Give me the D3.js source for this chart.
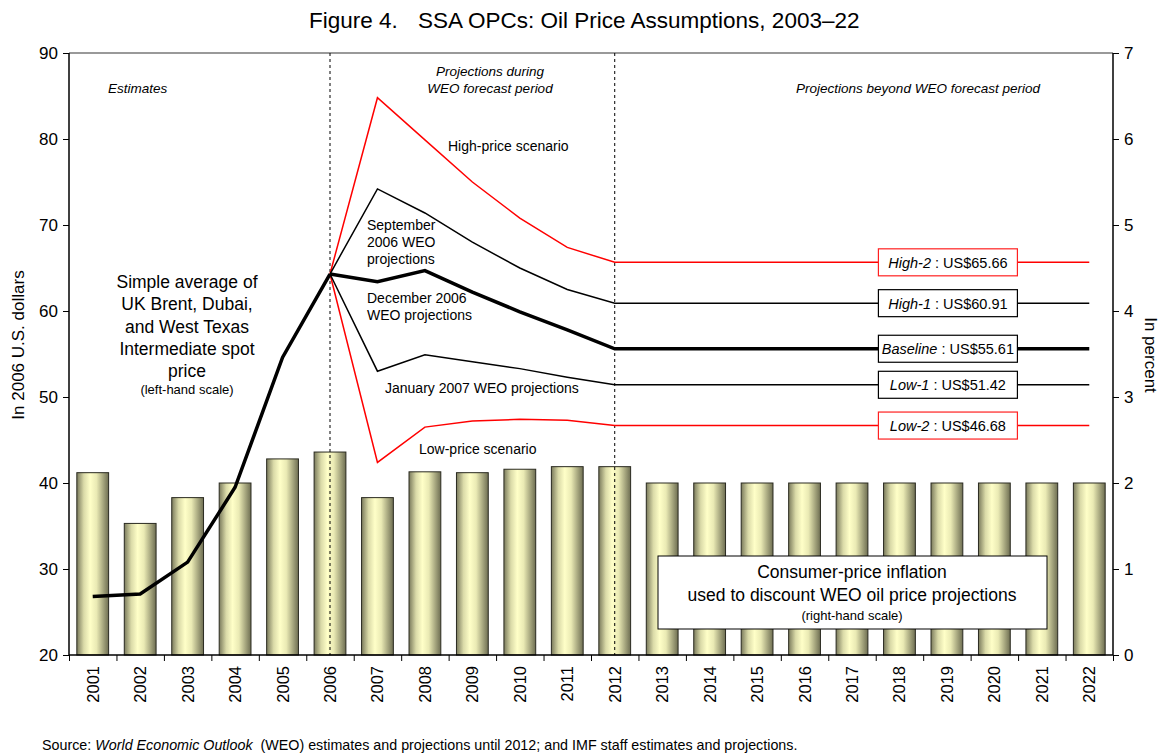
<!DOCTYPE html>
<html>
<head>
<meta charset="utf-8">
<script src="https://d3js.org/d3.v7.min.js"></script>
<style>
  body { margin: 0; background: #fff; }
  svg { font-family: 'Liberation Sans', Arial, sans-serif; }
  .axis text { font-size: 17px; fill: #000; }
  .axis path, .axis line { stroke: #000; }
</style>
</head>
<body>
<svg id="chart" width="1161" height="756"></svg>
<script>
// ---- data ----
let years = d3.range(2001, 2023).map(String);
let inflation = [2.12, 1.53, 1.83, 2.0, 2.28, 2.36, 1.83, 2.13, 2.12, 2.16, 2.19, 2.19,
                 2.0, 2.0, 2.0, 2.0, 2.0, 2.0, 2.0, 2.0, 2.0, 2.0];
let histYears = ['2001', '2002', '2003', '2004', '2005', '2006'];
let histPrice = [26.8, 27.1, 30.8, 39.5, 54.6, 64.3];
let projYears = ['2006', '2007', '2008', '2009', '2010', '2011', '2012'];
let high2 = [64.3, 84.8, 79.9, 75.0, 70.8, 67.4, 65.66];
let high1 = [64.3, 74.2, 71.4, 68.0, 65.0, 62.5, 60.91];
let baseline = [64.3, 63.4, 64.7, 62.2, 59.9, 57.8, 55.61];
let low1 = [64.3, 53.0, 54.9, 54.1, 53.3, 52.3, 51.42];
let low2 = [64.3, 42.4, 46.5, 47.2, 47.4, 47.3, 46.68];
let leftTicks = [20, 30, 40, 50, 60, 70, 80, 90];
let rightTicks = [0, 1, 2, 3, 4, 5, 6, 7];

let config = { left: 69, right: 1113, top: 53, bottom: 655 };

const svg = d3.select('#chart');

let x = d3.scaleBand().domain(years).range([config.left, config.right]).paddingInner(0.33).paddingOuter(0.165);
let xc = d => x(d) + x.bandwidth() / 2;
let xi = d3.scaleLinear().domain([0, years.length]).range([config.left, config.right]);
let yL = d3.scaleLinear().domain([20, 90]).range([config.bottom, config.top]);
let yR = d3.scaleLinear().domain([0, 7]).range([config.bottom, config.top]);

// gradient for bars
let defs = svg.append('defs');
let grad = defs.append('linearGradient').attr('id', 'bargrad').attr('x1', '0%').attr('x2', '100%');
grad.append('stop').attr('offset', '0%').attr('stop-color', '#7a7a5c');
grad.append('stop').attr('offset', '22%').attr('stop-color', '#dadaa8');
grad.append('stop').attr('offset', '42%').attr('stop-color', '#ffffc8');
grad.append('stop').attr('offset', '62%').attr('stop-color', '#eaeab4');
grad.append('stop').attr('offset', '100%').attr('stop-color', '#6e6e52');

// title
svg.append('text').attr('x', 309).attr('y', 28).style('font-size', '22.5px').text('Figure 4.');
svg.append('text').attr('x', 418).attr('y', 28).style('font-size', '22.5px')
    .text('SSA OPCs: Oil Price Assumptions, 2003\u201322');

// top border
svg.append('line').attr('x1', config.left).attr('x2', config.right)
    .attr('y1', config.top).attr('y2', config.top).attr('stroke', '#777').attr('stroke-width', 1.5);

// bars
svg.append('g').selectAll('rect').data(years).join('rect')
    .attr('x', d => x(d)).attr('width', x.bandwidth())
    .attr('y', (d, i) => yR(inflation[i])).attr('height', (d, i) => config.bottom - yR(inflation[i]))
    .attr('fill', 'url(#bargrad)').attr('stroke', '#2a2a20').attr('stroke-width', 1);

// dashed separators
['2006', '2012'].forEach(function(yr) {
    svg.append('line').attr('x1', xc(yr)).attr('x2', xc(yr))
        .attr('y1', config.top).attr('y2', config.bottom)
        .attr('stroke', '#000').attr('stroke-width', 1).attr('stroke-dasharray', '3,3');
});

// axes
let gl = svg.append('g').classed('axis', true).attr('transform', 'translate(' + config.left + ',0)')
    .call(d3.axisLeft(yL).tickValues(leftTicks).tickSize(6).tickPadding(5));
let gr = svg.append('g').classed('axis', true).attr('transform', 'translate(' + config.right + ',0)')
    .call(d3.axisRight(yR).tickValues(rightTicks).tickFormat(d3.format('d')).tickSize(6).tickPadding(5));
let gx = svg.append('g').classed('axis', true).attr('transform', 'translate(0,' + config.bottom + ')')
    .call(d3.axisBottom(xi).tickValues(d3.range(0, years.length + 1)).tickSize(6).tickFormat(''));
[gl, gr, gx].forEach(g => g.select('.domain').attr('stroke-width', 1.5));
gl.select('.domain').attr('d', 'M0,' + config.top + 'V' + config.bottom);
gr.select('.domain').attr('d', 'M0,' + config.top + 'V' + config.bottom);
gx.select('.domain').attr('d', 'M' + config.left + ',0H' + config.right);

svg.append('g').selectAll('text').data(years).join('text')
    .attr('transform', d => 'translate(' + (xc(d) + 6) + ',666) rotate(-90)')
    .attr('text-anchor', 'end').style('font-size', '16.5px').text(d => d);

// axis titles
svg.append('text').attr('transform', 'translate(24,345) rotate(-90)').attr('text-anchor', 'middle')
    .style('font-size', '17px').text('In 2006 U.S. dollars');
svg.append('text').attr('transform', 'translate(1145,355) rotate(90)').attr('text-anchor', 'middle')
    .style('font-size', '17px').text('In percent');

// lines
let line = d3.line().x(d => xc(d[0])).y(d => yL(d[1]));
function drawLine(yrs, vals, color, width) {
    let pts = yrs.map((y, i) => [y, vals[i]]);
    if (yrs[yrs.length - 1] === '2012') pts.push(['2022', vals[vals.length - 1]]);
    svg.append('path').datum(pts).attr('d', line)
        .attr('fill', 'none').attr('stroke', color).attr('stroke-width', width)
        .attr('stroke-linejoin', 'miter');
}
drawLine(projYears, high2, '#ff0000', 1.5);
drawLine(projYears, low2, '#ff0000', 1.5);
drawLine(projYears, high1, '#000', 1.5);
drawLine(projYears, low1, '#000', 1.5);
drawLine(projYears, baseline, '#000', 3.5);
drawLine(histYears, histPrice, '#000', 3.5);

// label boxes
let boxes = [
    { name: 'High-2', val: high2, color: '#ff2020' },
    { name: 'High-1', val: high1, color: '#000' },
    { name: 'Baseline', val: baseline, color: '#000' },
    { name: 'Low-1', val: low1, color: '#000' },
    { name: 'Low-2', val: low2, color: '#ff2020' },
];
boxes.forEach(function(b) {
    let v = b.val[b.val.length - 1];
    let cy = yL(v);
    let cx = xc('2019') + 1;
    svg.append('rect').attr('x', cx - 69.5).attr('y', cy - 13.5).attr('width', 139).attr('height', 27)
        .attr('fill', '#fff').attr('stroke', b.color).attr('stroke-width', 1.2);
    let t = svg.append('text').attr('x', cx).attr('y', cy + 5.5).attr('text-anchor', 'middle')
        .style('font-size', '14.5px');
    t.append('tspan').style('font-style', 'italic').text(b.name);
    t.append('tspan').text(' : US$' + v.toFixed(2));
});

// inflation box
svg.append('rect').attr('x', 658).attr('y', 556).attr('width', 389).attr('height', 73)
    .attr('fill', '#fff').attr('stroke', '#000').attr('stroke-width', 1);
function textLines(lines, cx, anchor) {
    lines.forEach(function(l) {
        svg.append('text').attr('x', cx).attr('y', l[1]).attr('text-anchor', anchor)
            .style('font-size', l[2] + 'px').style('font-style', l[3] ? 'italic' : 'normal').text(l[0]);
    });
}
textLines([
    ['Consumer-price inflation', 578, 17.5],
    ['used to discount WEO oil price projections', 601, 17.5],
    ['(right-hand scale)', 620, 13],
], 852, 'middle');

// annotations
textLines([
    ['Simple average of', 288, 17.5],
    ['UK Brent, Dubai,', 310, 17.5],
    ['and West Texas', 333, 17.5],
    ['Intermediate spot', 355, 17.5],
    ['price', 377, 17.5],
    ['(left-hand scale)', 394, 13],
], 187, 'middle');
textLines([['Estimates', 93, 13.5, true]], 108, 'start');
textLines([
    ['Projections during', 76, 13.5, true],
    ['WEO forecast period', 93, 13.5, true],
], 490, 'middle');
textLines([['Projections beyond WEO forecast period', 93, 13.5, true]], 918, 'middle');
textLines([['High-price scenario', 151, 14]], 448, 'start');
textLines([
    ['September', 230, 14],
    ['2006 WEO', 247, 14],
    ['projections', 264, 14],
], 367, 'start');
textLines([
    ['December 2006', 303, 14],
    ['WEO projections', 320, 14],
], 367, 'start');
textLines([['January 2007 WEO projections', 393, 14]], 385, 'start');
textLines([['Low-price scenario', 454, 14]], 419, 'start');

// source
let src = svg.append('text').attr('x', 42).attr('y', 750).style('font-size', '14.3px');
src.append('tspan').text('Source: ');
src.append('tspan').style('font-style', 'italic').text('World Economic Outlook');
src.append('tspan').attr('xml:space', 'preserve').text('  (WEO) estimates and projections until 2012; and IMF staff estimates and projections.');
</script>
</body>
</html>
